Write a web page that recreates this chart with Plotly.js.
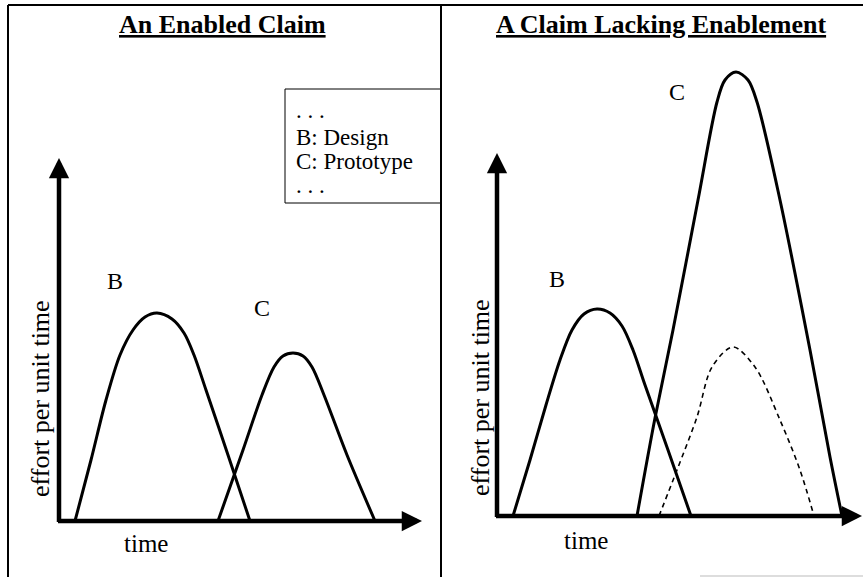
<!DOCTYPE html>
<html><head><meta charset="utf-8">
<script src="https://cdn.plot.ly/plotly-3.0.1.min.js"></script>
<style>html,body{margin:0;padding:0;background:#fff;overflow:hidden}#chart{width:863px;height:577px}</style>
</head><body><div id="chart"></div>
<script>
// ---- data (time / effort in arbitrary units) ----
// Left panel: An Enabled Claim
const leftB_time   = [16, 32, 47, 61, 74, 86, 98, 113, 125, 135, 147, 169, 191];
const leftB_effort = [0, 61, 121, 166, 191, 204, 208, 202, 188, 166, 131, 66, 0];
const leftC_time   = [159, 184, 203, 215, 224, 234, 244, 253, 265, 288, 316];
const leftC_effort = [0, 71, 126, 154, 165, 168, 165, 154, 126, 66, 0];
// Right panel: A Claim Lacking Enablement
const rightB_time   = [16, 33, 49, 63, 75, 87, 100, 113, 125, 136, 148, 171, 194];
const rightB_effort = [0, 56, 111, 156, 186, 202, 207, 203, 190, 166, 131, 66, 0];
const rightC_time   = [140, 158, 176, 201, 220, 228, 239, 251, 260, 283, 313, 333, 345];
const rightC_effort = [0, 98, 186, 316, 414, 436, 444, 436, 414, 316, 166, 59, 0];
const rightCdash_time   = [162, 180, 200, 215, 236, 258, 283, 303, 317];
const rightCdash_effort = [0, 46, 99, 149, 169, 149, 96, 46, 0];
const axisMax = {leftTime: 363, leftEffort: 363, rightTime: 365, rightEffort: 363};
const legendLines = ['. . .', 'B: Design', 'C: Prototype', '. . .'];
const titles = ['An Enabled Claim', 'A Claim Lacking Enablement'];

// ---- layout helpers ----
const W = 863, H = 577;
const PX = x => x / W, PY = y => 1 - y / H;
const FONT = 'Liberation Serif';
const solid = {color: '#000', width: 3, shape: 'spline', smoothing: 0.9};

const traces = [
  {x: leftB_time, y: leftB_effort, xaxis: 'x', yaxis: 'y', mode: 'lines', line: solid, hoverinfo: 'skip'},
  {x: leftC_time, y: leftC_effort, xaxis: 'x', yaxis: 'y', mode: 'lines', line: solid, hoverinfo: 'skip'},
  {x: rightB_time, y: rightB_effort, xaxis: 'x2', yaxis: 'y2', mode: 'lines', line: solid, hoverinfo: 'skip'},
  {x: rightC_time, y: rightC_effort, xaxis: 'x2', yaxis: 'y2', mode: 'lines', line: solid, hoverinfo: 'skip'},
  {x: rightCdash_time, y: rightCdash_effort, xaxis: 'x2', yaxis: 'y2', mode: 'lines',
   line: {color: '#000', width: 1.6, dash: '5px,4px', shape: 'spline', smoothing: 0.9}, hoverinfo: 'skip'}
];

const hidden = {visible: false, showgrid: false, zeroline: false, fixedrange: true};
const layout = {
  width: W, height: H, margin: {l: 0, r: 0, t: 0, b: 0},
  paper_bgcolor: '#fff', plot_bgcolor: 'rgba(0,0,0,0)', showlegend: false,
  xaxis:  Object.assign({}, hidden, {domain: [PX(59), PX(422)], range: [0, axisMax.leftTime]}),
  yaxis:  Object.assign({}, hidden, {domain: [PY(521), PY(60)], range: [0, 521 - 60]}),
  xaxis2: Object.assign({}, hidden, {domain: [PX(497), PX(862)], range: [0, axisMax.rightTime]}),
  yaxis2: Object.assign({}, hidden, {domain: [PY(516), PY(55)], range: [0, 516 - 55]}),
  shapes: [
    {type: 'line', xref: 'paper', yref: 'paper', x0: PX(8), x1: PX(8), y0: PY(5), y1: 0, line: {color: '#000', width: 2}},
    {type: 'line', xref: 'paper', yref: 'paper', x0: PX(8), x1: 1, y0: PY(5), y1: PY(5), line: {color: '#000', width: 2}},
    {type: 'line', xref: 'paper', yref: 'paper', x0: PX(441), x1: PX(441), y0: PY(5), y1: 0, line: {color: '#000', width: 2}},
    {type: 'rect', xref: 'paper', yref: 'paper', x0: PX(285), x1: PX(441), y0: PY(89), y1: PY(203), line: {color: '#000', width: 1}},
    {type: 'line', xref: 'paper', yref: 'paper', x0: PX(700), x1: 1, y0: PY(576), y1: PY(576), line: {color: '#bbb', width: 1}}
  ],
  annotations: []
};

// axis arrows
function arrow(xr, yr, x, y, ax, ay) {
  return {xref: xr, yref: yr, axref: xr, ayref: yr, x: x, y: y, ax: ax, ay: ay, text: '',
          showarrow: true, arrowhead: 2, arrowsize: 0.9, arrowwidth: 4.5, arrowcolor: '#000', standoff: 0, startstandoff: 0};
}
layout.annotations.push(arrow('x', 'y', axisMax.leftTime, 0, -2.5, 0));
layout.annotations.push(arrow('x', 'y', 0, axisMax.leftEffort, 0, -2.5));
layout.annotations.push(arrow('x2', 'y2', axisMax.rightTime, 0, -2.5, 0));
layout.annotations.push(arrow('x2', 'y2', 0, axisMax.rightEffort, 0, -2.5));

function txt(t, x, y, size, extra) {
  return Object.assign({xref: 'paper', yref: 'paper', x: PX(x), y: PY(y), text: t, showarrow: false,
    xanchor: 'center', yanchor: 'middle', font: {family: FONT, size: size, color: '#000'}}, extra || {});
}
const titleFont = {family: FONT, size: 26, color: '#000', weight: 'bold', lineposition: 'under'};
layout.annotations.push(txt(titles[0], 222, 25, 26, {font: titleFont}));
layout.annotations.push(txt(titles[1], 661, 25, 26, {font: titleFont}));
const legY = [111, 137, 161, 186];
legendLines.forEach((t, i) => layout.annotations.push(txt(t, 294, legY[i], 23, {xanchor: 'left'})));
layout.annotations.push(txt('B', 115, 281, 24));
layout.annotations.push(txt('C', 262, 308, 24));
layout.annotations.push(txt('B', 557, 279, 24));
layout.annotations.push(txt('C', 677, 92, 24));
layout.annotations.push(txt('time', 146, 543, 25));
layout.annotations.push(txt('time', 586, 540, 25));
layout.annotations.push(txt('effort per unit time', 40, 399, 26, {textangle: -90}));
layout.annotations.push(txt('effort per unit time', 480, 398, 26, {textangle: -90}));

Plotly.newPlot('chart', traces, layout, {staticPlot: true, displayModeBar: false});
</script>
</body></html>
